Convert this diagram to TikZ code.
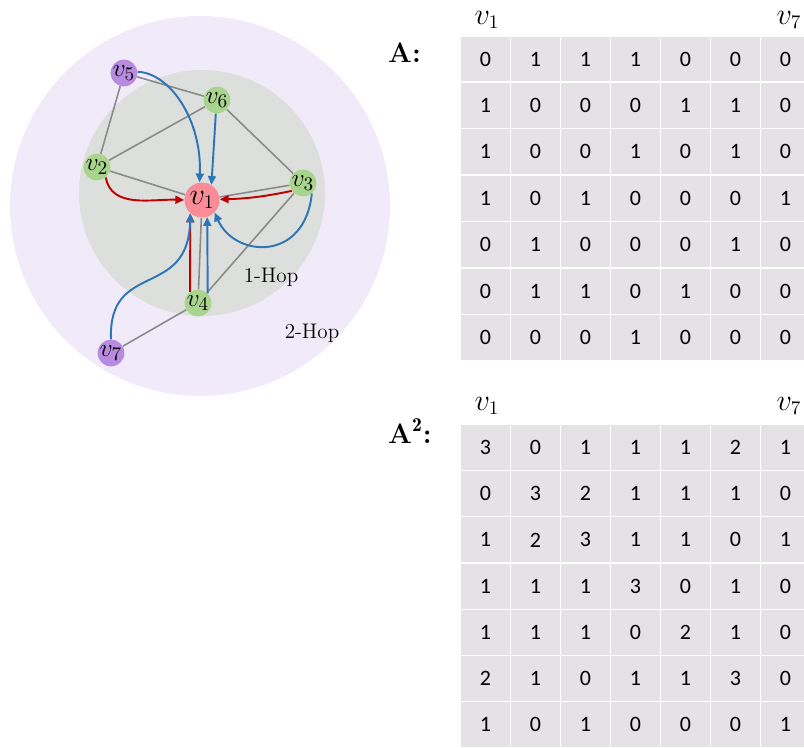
\documentclass[tikz,border=0pt]{standalone}
\usepackage{amsmath}
\usepackage{fontspec}
\usepackage{xcolor}
\newfontfamily\cellfont{Carlito}
\usetikzlibrary{arrows.meta}

\definecolor{outerhop}{HTML}{F1EBF9}
\definecolor{innerhop}{HTML}{DDDFDC}
\definecolor{hopgreen}{HTML}{A9D48E}
\definecolor{hoppurple}{HTML}{B88AE0}
\definecolor{hoppink}{HTML}{F98C97}
\definecolor{arrred}{HTML}{C00000}
\definecolor{arrblue}{HTML}{2E75B6}
\definecolor{edgegray}{HTML}{8A8A8A}
\definecolor{cellgray}{HTML}{E4E2E4}

\begin{document}
\begin{tikzpicture}[x=0.02cm, y=-0.02cm,
    vtx/.style={circle, inner sep=0pt, minimum size=0.53cm, font=\fontsize{15}{15}\selectfont},
    hopzero/.style={vtx, fill=hoppink, minimum size=0.7cm, font=\fontsize{16}{16}\selectfont},
    hopone/.style={vtx, fill=hopgreen},
    hoptwo/.style={vtx, fill=hoppurple},
    edge/.style={draw=edgegray, line width=0.9pt},
    redarr/.style={draw=arrred, line width=1.1pt, -{Triangle[length=5pt, width=4.5pt]}},
    bluearr/.style={draw=arrblue, line width=1.1pt, -{Triangle[length=5pt, width=4.5pt]}},
    cell/.style={fill=cellgray, minimum width=0.98cm, minimum height=0.9cm, inner sep=0pt,
        font=\cellfont\fontsize{12.5}{12.5}\selectfont},
    hdr/.style={anchor=base, inner sep=0.5pt, font=\fontsize{16}{16}\selectfont}]
    \useasboundingbox (0,0) rectangle (804,747);

    % hop regions
    \fill[outerhop] (200,206) circle (190);
    \fill[innerhop] (202,193) circle (123);

    \node[hopzero] (v1) at (202,200) {$v_1$};
    \node[hopone] (v2) at (97,167) {$v_2$};
    \node[hopone] (v3) at (303,183) {$v_3$};
    \node[hopone] (v4) at (198,303) {$v_4$};
    \node[hoptwo] (v5) at (124,73) {$v_5$};
    \node[hopone] (v6) at (217,100) {$v_6$};
    \node[hoptwo] (v7) at (111,353) {$v_7$};

    \node[font=\fontsize{12}{12}\selectfont] (hop1) at (271,277) {1-Hop};
    \node[font=\fontsize{12}{12}\selectfont] (hop2) at (312,333) {2-Hop};

    % graph edges
    \draw[edge] (v5) -- (v2);
    \draw[edge] (v5) -- (v6);
    \draw[edge] (v6) -- (v2);
    \draw[edge] (v6) -- (v3);
    \draw[edge] (v2) -- (v1);
    \draw[edge] (v3) -- (v1);
    \draw[edge] (v3) -- (v4);
    \draw[edge] (v4) -- (v1);
    \draw[edge] (v4) -- (v7);

    % messages into v1
    \draw[redarr] (v2.-50) to[out=-80, in=178] (v1.west);
    \draw[redarr] (v3.-145) to[bend left=5] (v1.2);
    \draw[redarr] (v4.125) -- (v1.229);
    \draw[bluearr] (v4.45) -- (v1.-73);
    \draw[bluearr] (v7.north) .. controls (108,260) and (188,300) .. (v1.229);
    \draw[bluearr] (v3.-50) .. controls (305,262) and (235,258) .. (v1.-45);
    \draw[bluearr] (v5.5) .. controls (170,73) and (202,120) .. (v1.98);
    \draw[bluearr] (v6.-95) -- (v1.58);

    % adjacency matrices
    \node[hdr, anchor=base west] (lbl-a) at (387,62) {\textbf{A:}};
    \node[hdr] (a-v1) at (487,24) {$v_1$};
    \node[hdr] (a-v7) at (789,24) {$v_7$};
    \foreach \row [count=\r] in {{0,1,1,1,0,0,0},{1,0,0,0,1,1,0},{1,0,0,1,0,1,0},
        {1,0,1,0,0,0,1},{0,1,0,0,0,1,0},{0,1,1,0,1,0,0},{0,0,0,1,0,0,0}} {
        \foreach \val [count=\c] in \row
            \node[cell] (a-\r-\c) at ({485.5+50*(\c-1)}, {59+46.4*(\r-1)}) {\val};
    }

    \node[hdr, anchor=base west] (lbl-b) at (387,443) {\textbf{A}$^{\mathbf{2}}$\textbf{:}};
    \node[hdr] (b-v1) at (487,410) {$v_1$};
    \node[hdr] (b-v7) at (789,410) {$v_7$};
    \foreach \row [count=\r] in {{3,0,1,1,1,2,1},{0,3,2,1,1,1,0},{1,2,3,1,1,0,1},
        {1,1,1,3,0,1,0},{1,1,1,0,2,1,0},{2,1,0,1,1,3,0},{1,0,1,0,0,0,1}} {
        \foreach \val [count=\c] in \row
            \node[cell] (b-\r-\c) at ({485.5+50*(\c-1)}, {447.5+46.2*(\r-1)}) {\val};
    }
\end{tikzpicture}
\end{document}
